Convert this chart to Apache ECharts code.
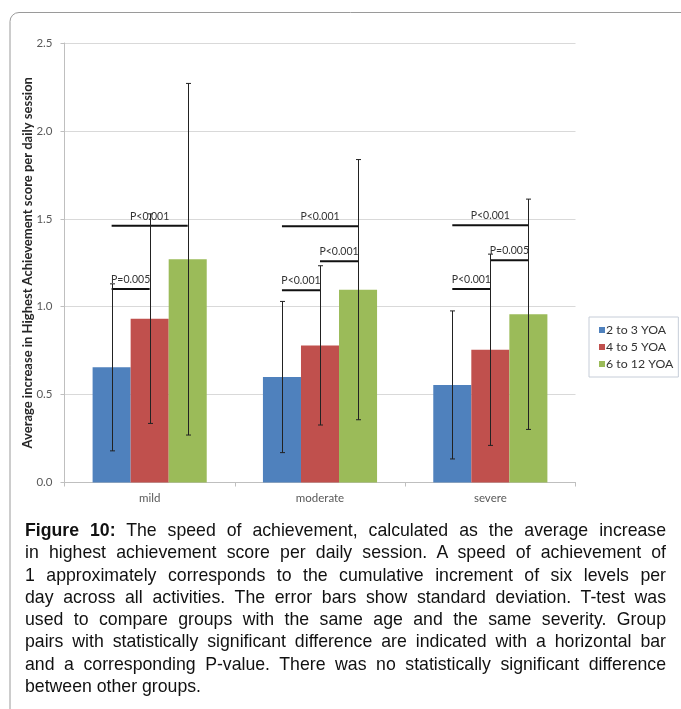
<!DOCTYPE html>
<html>
<head>
<meta charset="utf-8">
<script src="https://cdn.jsdelivr.net/npm/echarts@6/dist/echarts.min.js"></script>
<style>
  html, body { margin: 0; padding: 0; background: #fff; }
  #chart { position: absolute; left: 0; top: 0; width: 681px; height: 709px; }
  #caption { position: absolute; left: 25px; top: 519px; width: 641px;
    font-family: "Liberation Sans", Arial, sans-serif; font-size: 17.7px; color: #111;
    line-height: 22.3px; }
  #caption div { text-align: justify; text-align-last: justify; white-space: nowrap; }
  #caption div.last { text-align-last: left; }
</style>
</head>
<body>
<div id="chart"></div>
<div id="caption">
  <div><b>Figure 10:</b> The speed of achievement, calculated as the average increase</div>
  <div>in highest achievement score per daily session. A speed of achievement of</div>
  <div>1 approximately corresponds to the cumulative increment of six levels per</div>
  <div>day across all activities. The error bars show standard deviation. T-test was</div>
  <div>used to compare groups with the same age and the same severity. Group</div>
  <div>pairs with statistically significant difference are indicated with a horizontal bar</div>
  <div>and a corresponding P-value. There was no statistically significant difference</div>
  <div class="last">between other groups.</div>
</div>
<script>
// ---- data ----
var categories = ['mild', 'moderate', 'severe'];
var seriesNames = ['2 to 3 YOA', '4 to 5 YOA', '6 to 12 YOA'];
var mean2to3 = [0.655, 0.600, 0.555];
var mean4to5 = [0.932, 0.780, 0.755];
var mean6to12 = [1.270, 1.097, 0.957];
var sd2to3 = [0.475, 0.430, 0.421];
var sd4to5 = [0.596, 0.453, 0.544];
var sd6to12 = [1.000, 0.740, 0.655];
var yTicks = [0, 0.5, 1.0, 1.5, 2.0, 2.5];
// significance brackets: category index, from group, to group, level, label
var sigCategory = [0, 0, 1, 1, 1, 2, 2, 2];
var sigFrom =     [0, 0, 0, 1, 0, 0, 1, 0];
var sigTo =       [1, 2, 1, 2, 2, 1, 2, 2];
var sigLevel =    [1.100, 1.460, 1.093, 1.258, 1.458, 1.100, 1.264, 1.463];
var sigLabel =    ['P=0.005', 'P<0.001', 'P<0.001', 'P<0.001', 'P<0.001', 'P<0.001', 'P=0.005', 'P<0.001'];

var colors = ['#4f81bd', '#c0504d', '#9bbb59'];
var means = [mean2to3, mean4to5, mean6to12];
var sds = [sd2to3, sd4to5, sd6to12];
var GAP = 0.33;
var FONT = 'Lato, "Open Sans", sans-serif';

function groupOffset(api, g) {
  var band = api.size([1, 0])[0];
  var bw = band * (1 - GAP) / 3;
  return (g - 1) * bw;
}

var series = [];
seriesNames.forEach(function (name, g) {
  series.push({
    name: name, type: 'bar', data: means[g], barGap: '0%', barCategoryGap: (GAP * 100) + '%',
    itemStyle: { color: colors[g] }, z: 2
  });
});
seriesNames.forEach(function (name, g) {
  series.push({
    type: 'custom', name: 'err' + g, z: 5, silent: true,
    data: categories.map(function (c, i) { return [i, means[g][i] - sds[g][i], means[g][i] + sds[g][i]]; }),
    renderItem: function (params, api) {
      var i = api.value(0);
      var off = groupOffset(api, g);
      var lo = api.coord([i, api.value(1)]);
      var hi = api.coord([i, api.value(2)]);
      var x = Math.round(lo[0] + off) + 0.5;
      var st = { stroke: '#222', lineWidth: 1 };
      return { type: 'group', children: [
        { type: 'line', shape: { x1: x, y1: hi[1], x2: x, y2: lo[1] }, style: st },
        { type: 'line', shape: { x1: x - 2.5, y1: hi[1], x2: x + 2.5, y2: hi[1] }, style: st },
        { type: 'line', shape: { x1: x - 2.5, y1: lo[1], x2: x + 2.5, y2: lo[1] }, style: st }
      ]};
    }
  });
});
series.push({
  type: 'custom', name: 'sig', z: 4, silent: true,
  data: sigCategory.map(function (c, k) { return [c, sigFrom[k], sigTo[k], sigLevel[k]]; }),
  renderItem: function (params, api) {
    var c = api.value(0);
    var p = api.coord([c, api.value(3)]);
    var x1 = p[0] + groupOffset(api, api.value(1));
    var x2 = p[0] + groupOffset(api, api.value(2));
    return { type: 'group', children: [
      { type: 'line', shape: { x1: x1, y1: p[1], x2: x2, y2: p[1] }, style: { stroke: '#111', lineWidth: 2 } },
      { type: 'text', style: { x: (x1 + x2) / 2, y: p[1] - 4, text: sigLabel[params.dataIndex],
        textAlign: 'center', textVerticalAlign: 'bottom', fill: '#333', font: '10.5px ' + FONT } }
    ]};
  }
});

var chart = echarts.init(document.getElementById('chart'), null, { renderer: 'canvas' });
chart.setOption({
  animation: false,
  backgroundColor: '#fff',
  grid: { left: 64.5, top: 43, width: 511, height: 439.5, containLabel: false },
  legend: {
    data: seriesNames, orient: 'vertical', left: 589, top: 317,
    icon: 'rect', itemWidth: 6, itemHeight: 6, itemGap: 3,
    padding: [6, 5, 6, 10], borderColor: '#c6cdd8', borderWidth: 1,
    textStyle: { fontFamily: FONT, fontSize: 12.3, color: '#333', lineHeight: 14, padding: [0, 0, 0, -4] }
  },
  xAxis: {
    type: 'category', data: categories,
    axisLine: { lineStyle: { color: '#bfbfbf' } },
    axisTick: { show: true, length: 4, lineStyle: { color: '#bfbfbf' } },
    axisLabel: { fontFamily: FONT, fontSize: 11.5, color: '#595959', margin: 10 }
  },
  yAxis: {
    type: 'value', min: 0, max: 2.5, interval: 0.5,
    name: 'Average increase in Highest Achievement score per daily session',
    nameLocation: 'middle', nameGap: 30, nameMoveOverlap: false,
    nameTextStyle: { fontFamily: FONT, fontSize: 13, fontWeight: 'bold', color: '#262626' },
    axisLine: { show: true, lineStyle: { color: '#bfbfbf' } },
    axisTick: { show: true, length: 4, lineStyle: { color: '#bfbfbf' } },
    splitLine: { lineStyle: { color: '#d9d9d9' } },
    axisLabel: { fontFamily: FONT, fontSize: 11.5, color: '#595959', margin: 12,
      formatter: function (v) { return yTicks.indexOf(v) >= 0 ? v.toFixed(1) : ''; } }
  },
  graphic: [{
    type: 'rect', left: 7.5, top: 10, silent: true, z: -10,
    shape: { x: 0, y: 0, width: 760, height: 760, r: 9 },
    style: { fill: 'none', stroke: '#9a9a9a', lineWidth: 1 }
  }],
  series: series
});
</script>
</body>
</html>
